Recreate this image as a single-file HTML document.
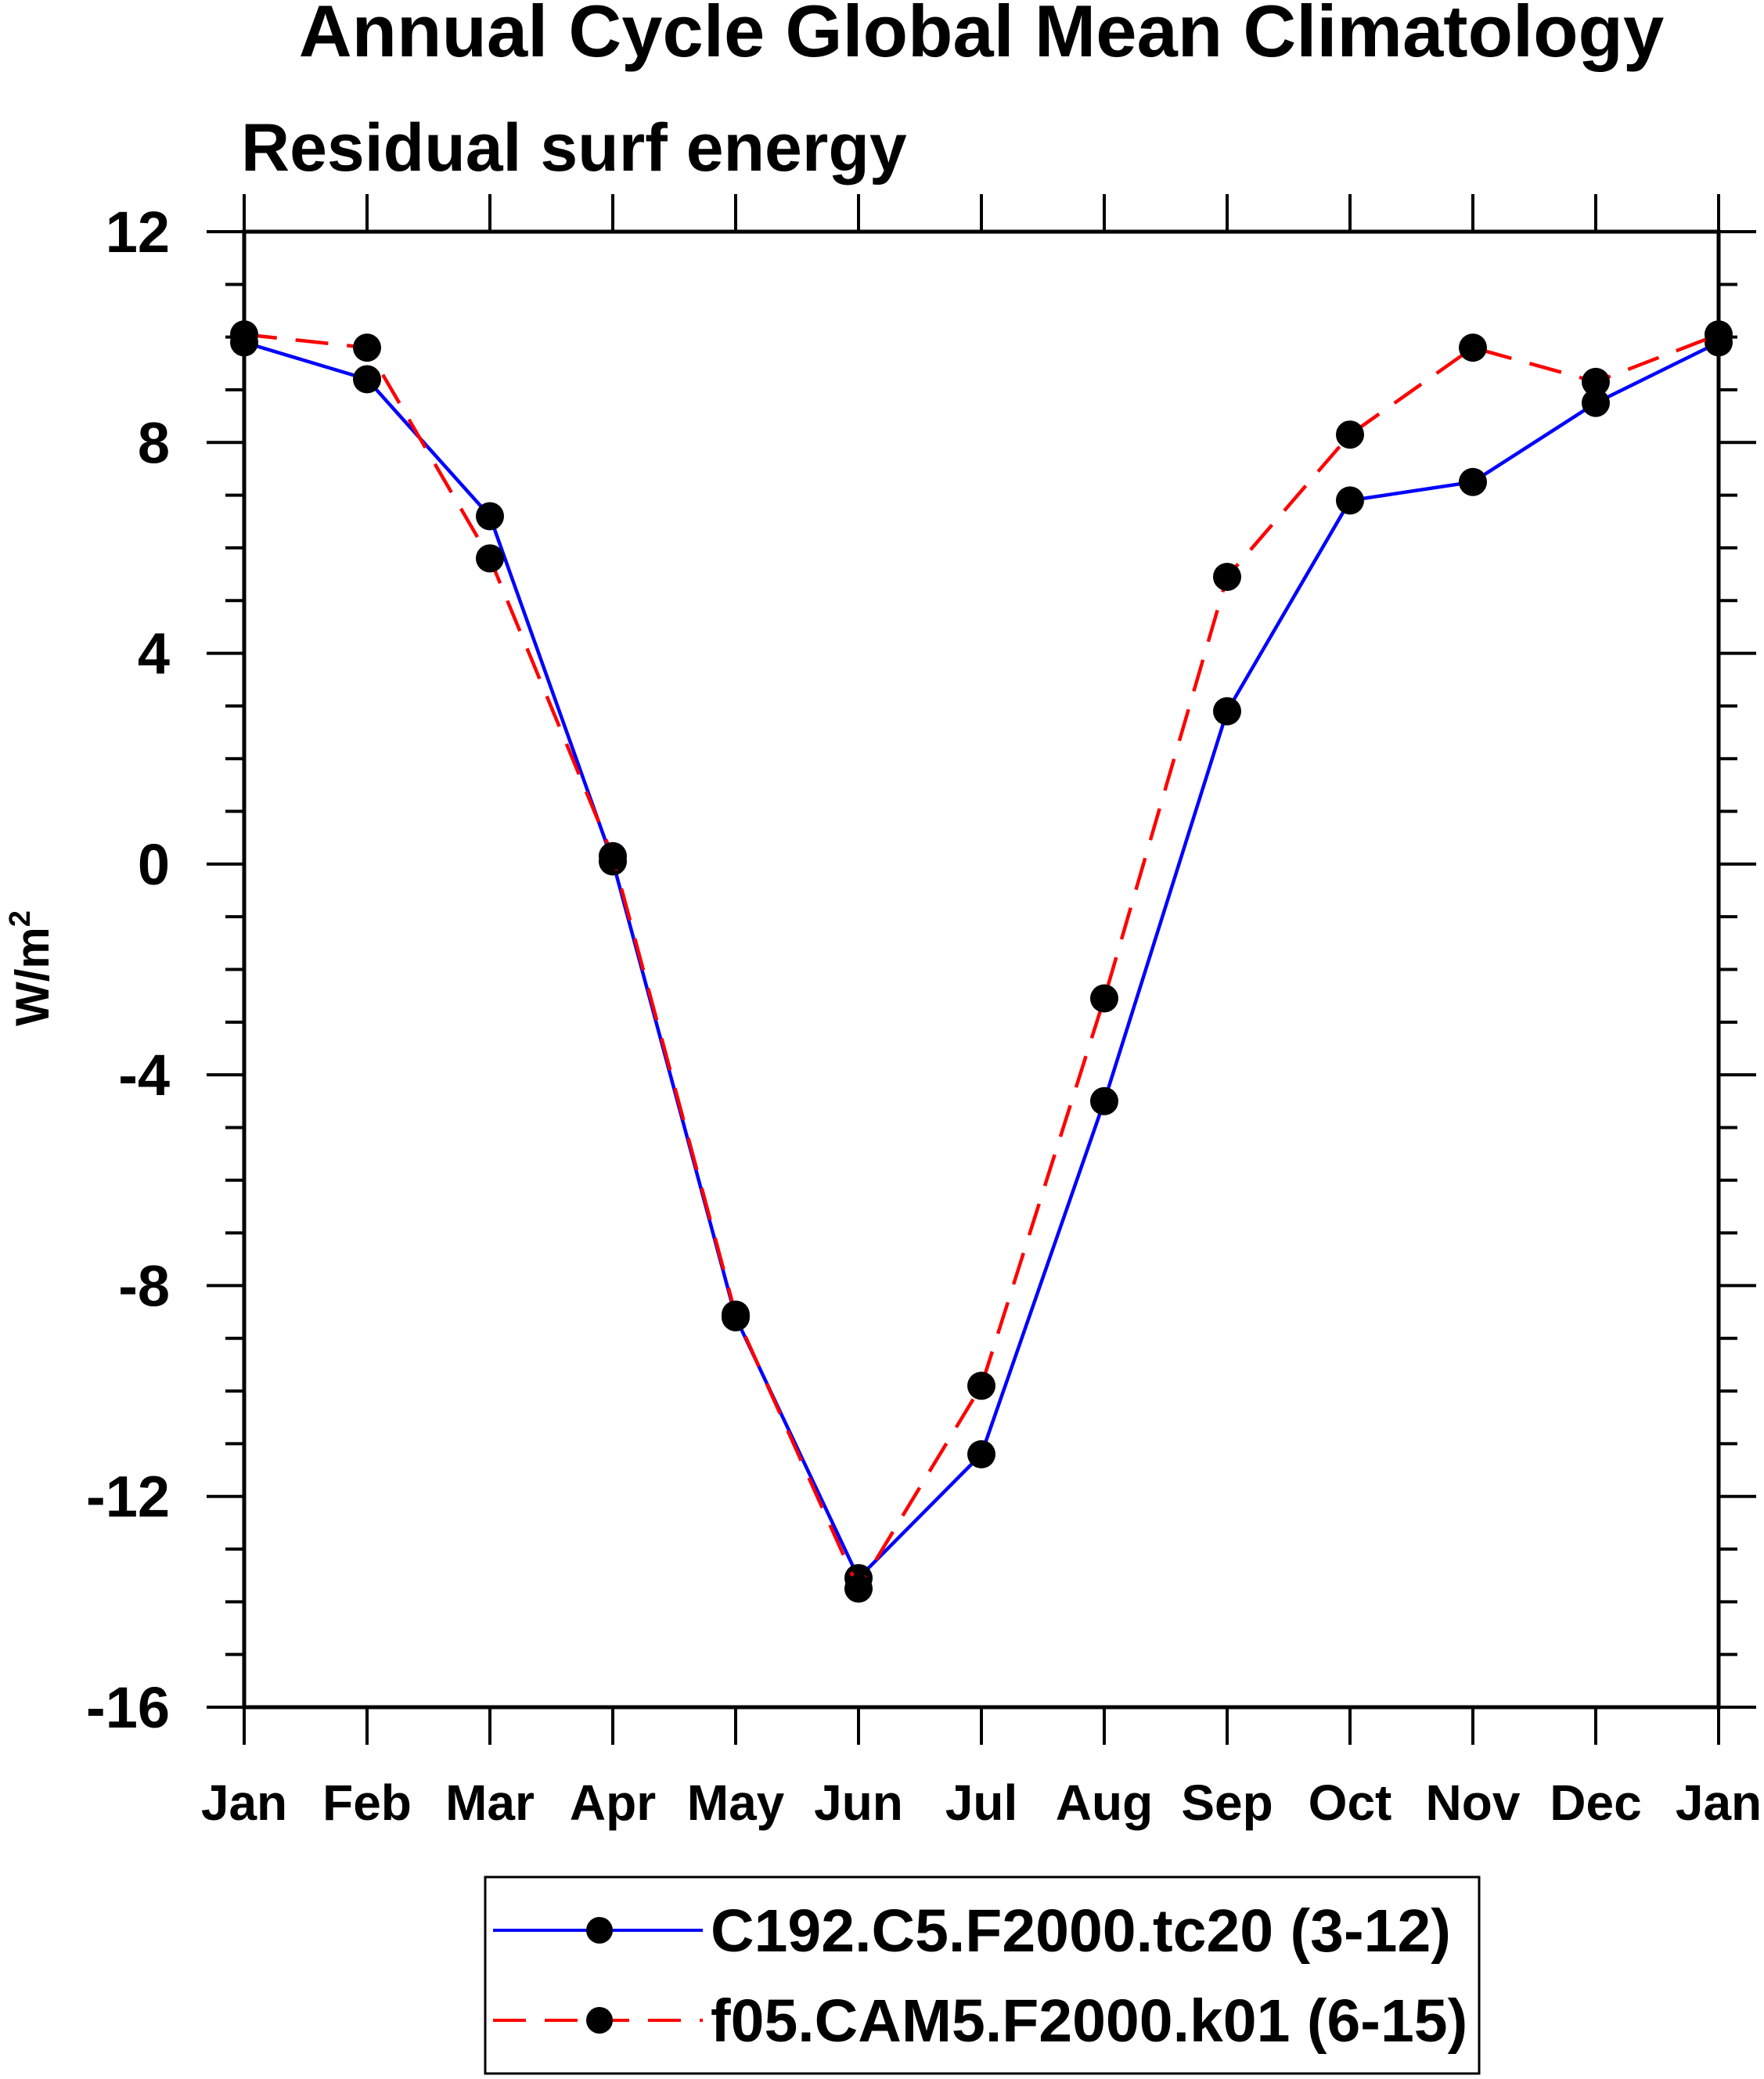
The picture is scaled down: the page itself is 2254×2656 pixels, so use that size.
<!DOCTYPE html>
<html><head><meta charset="utf-8"><style>
body{margin:0;background:#fff}
svg{display:block;font-family:"Liberation Sans",Arial,sans-serif;font-weight:bold}
</style></head><body>
<svg id="chart" width="2254" height="2656" viewBox="0 0 2254 2656" xmlns="http://www.w3.org/2000/svg">
<text x="1254" y="72" font-size="94" text-anchor="middle">Annual Cycle Global Mean Climatology</text>
<text x="308" y="218" font-size="86">Residual surf energy</text>
<text transform="translate(62,1237) rotate(-90)" font-size="60" text-anchor="middle">W/m<tspan font-size="38" dy="-24">2</tspan></text>
<g id="axes"></g>
<g id="series"></g>
<g>
<rect x="620" y="2398" width="1270" height="251" fill="none" stroke="#000" stroke-width="3"/>
<line x1="630" y1="2466" x2="898" y2="2466" stroke="#0000ff" stroke-width="4"/>
<circle cx="766" cy="2466" r="17" fill="#000"/>
<text x="908" y="2493" font-size="77">C192.C5.F2000.tc20 (3-12)</text>
<line x1="630" y1="2581" x2="898" y2="2581" stroke="#ff0000" stroke-width="4" stroke-dasharray="42,24"/>
<circle cx="766" cy="2581" r="17" fill="#000"/>
<text x="908" y="2608" font-size="77">f05.CAM5.F2000.k01 (6-15)</text>
</g>
</svg>
<script>
const months = ["Jan","Feb","Mar","Apr","May","Jun","Jul","Aug","Sep","Oct","Nov","Dec","Jan"];
const yTicks = [12,8,4,0,-4,-8,-12,-16];
const seriesC192 = [9.9,9.2,6.6,0.05,-8.6,-13.55,-11.2,-4.5,2.9,6.9,7.25,8.75,9.9];
const seriesF05 = [10.05,9.8,5.8,0.15,-8.55,-13.75,-9.9,-2.55,5.45,8.15,9.8,9.15,10.05];

const L=312,R=2196,T=296,B=2181,yMax=12,yMin=-16;
const X=i=>L+(R-L)*i/(months.length-1);
const Y=v=>T+(yMax-v)/(yMax-yMin)*(B-T);
const NS="http://www.w3.org/2000/svg";
function mk(tag,attrs,parent){const e=document.createElementNS(NS,tag);for(const k in attrs)e.setAttribute(k,attrs[k]);parent.appendChild(e);return e;}
const ax=document.getElementById('axes');
const frame=mk('rect',{x:L,y:T,width:R-L,height:B-T,fill:'none',stroke:'#000','stroke-width':5},ax);


for(let v=yMin;v<=yMax;v++){
  const major=yTicks.includes(v);const len=major?48:24;const y=Y(v);
  mk('line',{x1:L-len,y1:y,x2:L,y2:y,stroke:'#000','stroke-width':4},ax);
  mk('line',{x1:R,y1:y,x2:R+len,y2:y,stroke:'#000','stroke-width':4},ax);
}
yTicks.forEach(v=>{
  const t=mk('text',{x:217,y:Y(v)+26,'font-size':74,'text-anchor':'end'},ax);
  t.textContent=v;
  
  
});
months.forEach((m,i)=>{
  const x=X(i);
  mk('line',{x1:x,y1:B,x2:x,y2:B+48,stroke:'#000','stroke-width':4},ax);
  mk('line',{x1:x,y1:T-48,x2:x,y2:T,stroke:'#000','stroke-width':4},ax);
  const t=mk('text',{x:x,y:2325,'font-size':64,'text-anchor':'middle'},ax);
  t.textContent=m;
  
  
});
const sg=document.getElementById('series');
function draw(data,color,dash,name){
  const p=mk('polyline',{points:data.map((v,i)=>X(i)+','+Y(v)).join(' '),fill:'none',stroke:color,'stroke-width':4.5,'stroke-dasharray':dash},sg);
  
  
  data.forEach((v,i)=>{
    const c=mk('circle',{cx:X(i),cy:Y(v),r:18,fill:'#000'},sg);
    
    
  });
}
draw(seriesC192,'#0000ff','none','c192-series');
draw(seriesF05,'#ff0000','42,24','f05-series');
</script>
</body></html>
